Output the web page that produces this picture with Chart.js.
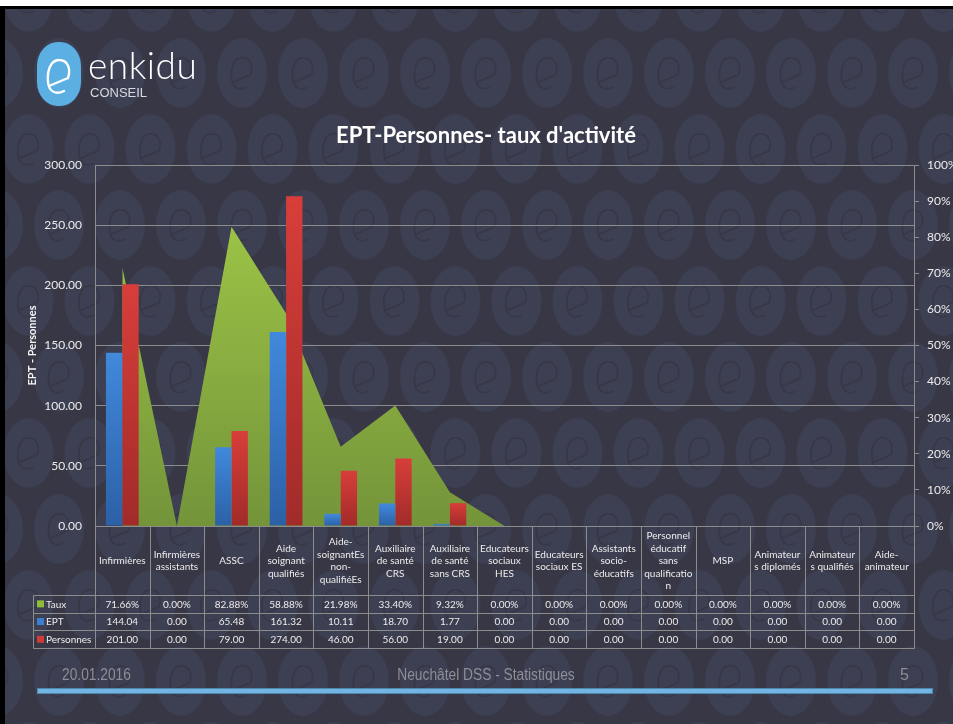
<!DOCTYPE html>
<html>
<head>
<meta charset="utf-8">
<script src="https://cdn.jsdelivr.net/npm/chart.js@4.4.1/dist/chart.umd.min.js"></script>
<style>
  html, body { margin:0; padding:0; width:953px; height:724px; overflow:hidden; background:#383745; }
  #bg { position:absolute; left:0; top:0; }
  #chartWrap { position:absolute; left:0; top:0; width:953px; height:724px; }
  .abs { position:absolute; white-space:nowrap; }
  #topWhite { left:0; top:0; width:953px; height:6px; background:#ffffff; }
  #topBlack { left:0; top:6px; width:953px; height:3px; background:#000000; }
  #leftBlack { left:0; top:6px; width:5px; height:718px; background:#000000; }
  #title { left:486px; top:124px; transform:translateX(-50%); font:bold 22px/22px Lato, "Open Sans", sans-serif; color:#ffffff; }
  #brand { left:88px; top:46px; font:300 37px/37px Lato, sans-serif; color:#ffffff; letter-spacing:0.5px; }
  #conseil { left:90px; top:86px; font:13px/13px "Liberation Sans", Arial, sans-serif; color:#d9d9df; }
  #logo { left:37px; top:42px; }
  .foot { top:667px; font:16px/16px "Liberation Sans Narrow", "Liberation Sans", sans-serif; color:#8e8e99; }
  #fdate { left:62px; transform-origin:0 0; transform:scaleX(0.86); }
  #fmid { left:486px; transform:translateX(-50%) scaleX(0.86); }
  #fnum { left:900px; }
  #fline { left:38px; top:689px; width:894px; height:4px; background:#72b5e2; box-shadow:0 0 0 1px #4f86ad; }
</style>
</head>
<body>
<canvas id="bg" width="953" height="724"></canvas>
<div class="abs" id="topWhite"></div>
<div class="abs" id="topBlack"></div>
<div class="abs" id="leftBlack"></div>
<svg class="abs" id="logo" width="44" height="64" viewBox="0 0 44 64">
  <rect x="0" y="0" width="44" height="64" rx="21" ry="24" fill="#5cafe2"/>
  <path d="M31 36 C34 27 31 18 22 18 C13 18 10 30 11 40 C12 50 19 53 27 49 M31 36 L12 44" fill="none" stroke="#ffffff" stroke-width="2.4" stroke-linecap="round"/>
</svg>
<div class="abs" id="brand">enkidu</div>
<div class="abs" id="conseil">CONSEIL</div>
<div class="abs" id="title">EPT-Personnes- taux d'activité</div>
<div id="chartWrap"><canvas id="chart" width="953" height="724"></canvas></div>
<div class="abs foot" id="fdate">20.01.2016</div>
<div class="abs foot" id="fmid">Neuchâtel DSS - Statistiques</div>
<div class="abs foot" id="fnum">5</div>
<div class="abs" id="fline"></div>
<script>
// ---------------- DATA ----------------
const categories = [
  ["Infirmières"],
  ["Infirmières", "assistants"],
  ["ASSC"],
  ["Aide", "soignant", "qualifiés"],
  ["Aide-", "soignantEs", "non-", "qualifiéEs"],
  ["Auxiliaire", "de santé", "CRS"],
  ["Auxiliaire", "de santé", "sans CRS"],
  ["Educateurs", "sociaux", "HES"],
  ["Educateurs", "sociaux ES"],
  ["Assistants", "socio-", "éducatifs"],
  ["Personnel", "éducatif", "sans", "qualificatio", "n"],
  ["MSP"],
  ["Animateur", "s diplomés"],
  ["Animateur", "s qualifiés"],
  ["Aide-", "animateur"]
];
const taux      = [71.66, 0.00, 82.88, 58.88, 21.98, 33.40, 9.32, 0.00, 0.00, 0.00, 0.00, 0.00, 0.00, 0.00, 0.00];
const ept       = [144.04, 0.00, 65.48, 161.32, 10.11, 18.70, 1.77, 0.00, 0.00, 0.00, 0.00, 0.00, 0.00, 0.00, 0.00];
const personnes = [201.00, 0.00, 79.00, 274.00, 46.00, 56.00, 19.00, 0.00, 0.00, 0.00, 0.00, 0.00, 0.00, 0.00, 0.00];
const seriesNames = ["Taux", "EPT", "Personnes"];
const leftAxisTitle = "EPT - Personnes";

// ---------------- BACKGROUND PATTERN (decorative) ----------------
(function drawBackground(){
  const c = document.getElementById('bg').getContext('2d');
  c.fillStyle = '#383745';
  c.fillRect(0, 0, 953, 724);
  function glyph(cx, cy, s){
    c.beginPath();
    c.moveTo(cx + 9*s, cy + 4*s);
    c.bezierCurveTo(cx + 12*s, cy - 5*s, cx + 9*s, cy - 14*s, cx, cy - 14*s);
    c.bezierCurveTo(cx - 9*s, cy - 14*s, cx - 12*s, cy - 2*s, cx - 11*s, cy + 8*s);
    c.bezierCurveTo(cx - 10*s, cy + 18*s, cx - 3*s, cy + 21*s, cx + 5*s, cy + 17*s);
    c.moveTo(cx + 9*s, cy + 4*s);
    c.lineTo(cx - 10*s, cy + 12*s);
    c.stroke();
  }
  for (let r = 0; r < 11; r++) {
    const cy = -3 + 76 * r;
    const off = (r % 2 === 1) ? 0 : 30.5;
    for (let cx = 59 + off - 122; cx < 1010; cx += 61) {
      c.fillStyle = '#3d3f52';
      c.beginPath();
      c.ellipse(cx, cy, 25, 35, 0, 0, Math.PI * 2);
      c.fill();
      c.strokeStyle = 'rgba(52,52,66,0.7)';
      c.lineWidth = 1.6;
      glyph(cx, cy - 2, 0.95);
    }
  }
})();

// ---------------- CHART ----------------
const gridColor = '#8c8c8c';
const textColor = '#ececec';
const baseFont = 'Lato, "Open Sans", sans-serif';

function barGradient(top, bottom) {
  return function(ctx) {
    const chart = ctx.chart;
    const ys = chart.scales.y;
    if (!ys || ctx.raw == null) return top;
    const y0 = ys.getPixelForValue(0);
    const y1 = ys.getPixelForValue(ctx.raw);
    if (!isFinite(y0) || !isFinite(y1) || Math.abs(y0 - y1) < 1) return top;
    const g = chart.ctx.createLinearGradient(0, y1, 0, y0);
    g.addColorStop(0, top);
    g.addColorStop(1, bottom);
    return g;
  };
}
function areaGradient(ctx) {
  const chart = ctx.chart;
  const a = chart.chartArea;
  if (!a || !isFinite(a.top) || !isFinite(a.bottom)) return '#8ab33e';
  const g = chart.ctx.createLinearGradient(0, a.top, 0, a.bottom);
  g.addColorStop(0, '#a3cc48');
  g.addColorStop(1, '#74943a');
  return g;
}

const keyColors = ['#8fbc3a', '#3b7fd2', '#d23b38'];

const tablePlugin = {
  id: 'dataTable',
  afterDraw(chart) {
    const c = chart.ctx;
    const xs = chart.scales.x;
    const area = chart.chartArea;
    const n = categories.length;
    const top = area.bottom;
    const hdrBottom = top + 69;
    const rowH = 17.7;
    const rows = [
      { name: seriesNames[0], color: keyColors[0], vals: taux.map(v => v.toFixed(2) + '%') },
      { name: seriesNames[1], color: keyColors[1], vals: ept.map(v => v.toFixed(2)) },
      { name: seriesNames[2], color: keyColors[2], vals: personnes.map(v => v.toFixed(2)) }
    ];
    const bottom = hdrBottom + rows.length * rowH;
    const half = (xs.getPixelForValue(1) - xs.getPixelForValue(0)) / 2;
    const bounds = [];
    for (let i = 0; i < n; i++) bounds.push(xs.getPixelForValue(i) - half);
    bounds.push(xs.getPixelForValue(n - 1) + half);
    const keyLeft = 33;
    c.save();
    c.strokeStyle = gridColor;
    c.lineWidth = 1;
    c.beginPath();
    bounds.forEach(x => { const px = Math.round(x) + 0.5; c.moveTo(px, top); c.lineTo(px, Math.round(bottom) + 0.5); });
    for (let r = 0; r <= rows.length; r++) {
      const py = Math.round(hdrBottom + r * rowH) + 0.5;
      c.moveTo(keyLeft + 0.5, py);
      c.lineTo(Math.round(bounds[n]) + 0.5, py);
    }
    c.moveTo(keyLeft + 0.5, Math.round(hdrBottom) + 0.5);
    c.lineTo(keyLeft + 0.5, Math.round(bottom) + 0.5);
    c.stroke();

    c.font = '10px ' + baseFont;
    c.fillStyle = textColor;
    c.textBaseline = 'middle';
    rows.forEach((row, r) => {
      const cy = hdrBottom + r * rowH + rowH / 2 + 0.5;
      c.fillStyle = row.color;
      c.fillRect(keyLeft + 4, cy - 4, 7, 7);
      c.fillStyle = textColor;
      c.textAlign = 'left';
      c.fillText(row.name, keyLeft + 13, cy);
      c.textAlign = 'center';
      row.vals.forEach((v, i) => {
        c.fillText(v, xs.getPixelForValue(i), cy);
      });
    });
    c.restore();
  }
};

new Chart(document.getElementById('chart'), {
  type: 'bar',
  data: {
    labels: categories,
    datasets: [
      {
        type: 'line',
        label: seriesNames[0],
        data: taux,
        yAxisID: 'y1',
        fill: 'origin',
        backgroundColor: areaGradient,
        borderWidth: 0,
        borderColor: 'rgba(0,0,0,0)',
        pointRadius: 0,
        tension: 0,
        order: 2
      },
      {
        label: seriesNames[1],
        data: ept,
        yAxisID: 'y',
        backgroundColor: barGradient('#4189dc', '#2c60a6'),
        barPercentage: 1,
        categoryPercentage: 0.6,
        order: 1
      },
      {
        label: seriesNames[2],
        data: personnes,
        yAxisID: 'y',
        backgroundColor: barGradient('#d83e3a', '#a12b29'),
        barPercentage: 1,
        categoryPercentage: 0.6,
        order: 1
      }
    ]
  },
  options: {
    responsive: false,
    animation: false,
    events: [],
    layout: { padding: { top: 165, bottom: 76, left: 26, right: 0 } },
    plugins: { legend: { display: false }, tooltip: { enabled: false }, title: { display: false } },
    scales: {
      x: {
        type: 'category',
        offset: true,
        grid: { display: false, drawTicks: false, drawOnChartArea: false },
        border: { display: false },
        ticks: {
          autoSkip: false, maxRotation: 0, minRotation: 0,
          crossAlign: 'center',
          padding: 10,
          color: textColor,
          font: { family: baseFont, size: 10, lineHeight: 1.25 }
        },
        afterFit(s) { s.height = 122; }
      },
      y: {
        position: 'left',
        min: 0, max: 300,
        ticks: { stepSize: 50, padding: 13, color: textColor, font: { family: baseFont, size: 12 }, callback: v => Number(v).toFixed(2) },
        grid: { color: gridColor, lineWidth: 1, drawTicks: false },
        border: { display: true, color: gridColor, width: 1 },
        title: { display: true, text: leftAxisTitle, color: '#f4f4f4', font: { family: baseFont, size: 11, weight: 'bold', lineHeight: 1.2 }, padding: { top: 0, bottom: 0 } },
        afterFit(s) { s.width = 69; }
      },
      y1: {
        position: 'right',
        min: 0, max: 100,
        ticks: { stepSize: 10, padding: 8, color: textColor, font: { family: baseFont, size: 12 }, callback: v => v + '%' },
        grid: { drawOnChartArea: false, drawTicks: true, tickLength: 5, color: gridColor },
        border: { display: true, color: gridColor, width: 1 },
        afterFit(s) { s.width = 39; }
      }
    }
  },
  plugins: [tablePlugin]
});
</script>
</body>
</html>
